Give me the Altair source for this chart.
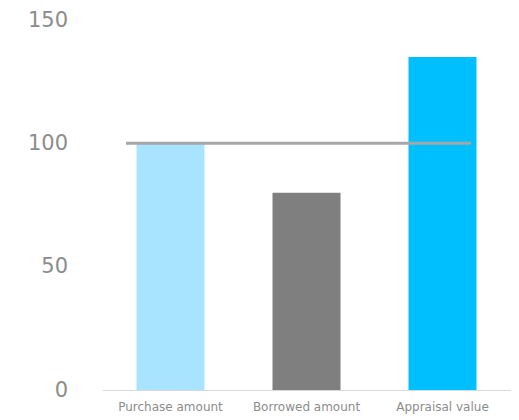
import altair as alt
import pandas as pd

categories = ["Purchase amount", "Borrowed amount", "Appraisal value"]
values = [100, 80, 135]
colors = ["#A8E4FF", "#7F7F7F", "#00BFFF"]
reference_level = [100]

df = pd.DataFrame({"category": categories, "value": values, "color": colors})
ref = pd.DataFrame({"level": reference_level})

x = alt.X(
    "category:N",
    sort=categories,
    scale=alt.Scale(paddingInner=0.5, paddingOuter=0.25),
    axis=alt.Axis(
        title=None,
        labelAngle=0,
        labelFont="DejaVu Sans",
        labelFontSize=12,
        labelColor="#8C8C8C",
        labelPadding=11,
        ticks=False,
        tickSize=0,
        domainColor="#D9D9D9",
        domainWidth=1,
        grid=False,
    ),
)

y_scale = alt.Scale(domain=[0, 150], nice=False)

bars = alt.Chart(df).mark_bar().encode(
    x=x,
    y=alt.Y(
        "value:Q",
        scale=y_scale,
        axis=alt.Axis(
            title=None,
            values=[0, 50, 100, 150],
            labelFont="DejaVu Sans",
            labelFontSize=21,
            labelColor="#8C8C8C",
            labelPadding=35,
            ticks=False,
            tickSize=0,
            domain=False,
            grid=False,
        ),
    ),
    color=alt.Color("color:N", scale=None),
)

rule = alt.Chart(ref).mark_rule(color="#A6A6A6", strokeWidth=3).encode(
    y=alt.Y("level:Q", scale=y_scale),
    x=alt.value(23.5),
    x2=alt.value(368.5),
)

chart = (
    alt.layer(bars, rule)
    .properties(
        width=408,
        height=370,
        background="white",
        autosize=alt.AutoSizeParams(type="none"),
        padding={"left": 94.5, "top": 12, "right": 0, "bottom": 28},
    )
    .configure_view(strokeWidth=0, stroke=None)
)

chart.save("out.html", embed_options={"renderer": "svg", "actions": False})
